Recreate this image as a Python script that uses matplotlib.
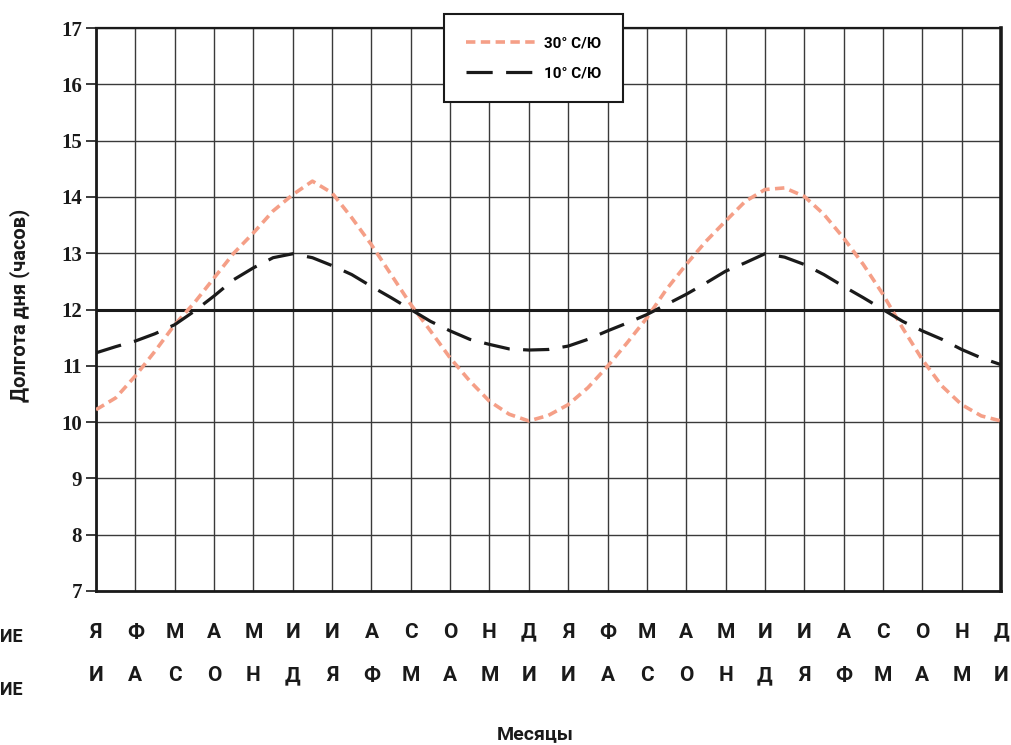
import matplotlib
matplotlib.use('Agg')
import matplotlib.pyplot as plt
import numpy as np

plt.rcParams['font.family'] = ['Roboto', 'DejaVu Sans']

# months, read every half month from the chart (0 = first Я, 23 = last Д)
months = np.arange(0, 23.01, 0.5)

lat30 = [10.22, 10.43, 10.82, 11.26, 11.73, 12.12, 12.56, 13.00, 13.36, 13.75,
         14.04, 14.28, 14.07, 13.63, 13.15, 12.62, 12.09, 11.62, 11.14, 10.73,
         10.37, 10.14, 10.02, 10.12, 10.31, 10.61, 10.99, 11.41, 11.85, 12.36,
         12.80, 13.21, 13.57, 13.92, 14.13, 14.16, 14.01, 13.69, 13.27, 12.80,
         12.27, 11.67, 11.11, 10.64, 10.31, 10.11, 10.02]

lat10 = [11.23, 11.34, 11.44, 11.57, 11.73, 11.97, 12.24, 12.53, 12.74, 12.92,
         12.99, 12.92, 12.78, 12.62, 12.41, 12.21, 12.00, 11.79, 11.62, 11.47,
         11.38, 11.30, 11.28, 11.29, 11.35, 11.47, 11.62, 11.76, 11.91, 12.09,
         12.27, 12.47, 12.68, 12.83, 12.99, 12.93, 12.80, 12.62, 12.41, 12.21,
         12.00, 11.79, 11.62, 11.47, 11.29, 11.14, 11.02]

row_north = ['Я', 'Ф', 'М', 'А', 'М', 'И', 'И', 'А', 'С', 'О', 'Н', 'Д',
             'Я', 'Ф', 'М', 'А', 'М', 'И', 'И', 'А', 'С', 'О', 'Н', 'Д']
row_south = ['И', 'А', 'С', 'О', 'Н', 'Д', 'Я', 'Ф', 'М', 'А', 'М', 'И',
             'И', 'А', 'С', 'О', 'Н', 'Д', 'Я', 'Ф', 'М', 'А', 'М', 'И']

hours = np.arange(7, 18)

fig = plt.figure(figsize=(10.11, 7.45), dpi=100)
ax = fig.add_axes([96 / 1011, 154 / 745, 905 / 1011, 563 / 745])

ax.set_xlim(0, 23)
ax.set_ylim(7, 17)

# grid
for m in range(24):
    ax.axvline(m, color='#3a3a3a', lw=1.0, zorder=1)
for h in hours:
    ax.axhline(h, color='#3a3a3a', lw=1.0, zorder=1)
ax.axhline(12, color='#1a1a1a', lw=2.2, zorder=2)

ax.plot(months, lat30, color='#f59f87', lw=2.6, dashes=(2.6, 1.5),
        label='30° С/Ю', zorder=3)
ax.plot(months, lat10, color='#1a1a1a', lw=2.3, dashes=(8.2, 4.2),
        label='10° С/Ю', zorder=4)

for side in ['left', 'right', 'bottom', 'top']:
    ax.spines[side].set_color('#1a1a1a')
ax.spines['left'].set_linewidth(2.0)
ax.spines['right'].set_linewidth(2.6)
ax.spines['bottom'].set_linewidth(2.0)
ax.spines['top'].set_linewidth(1.6)

ax.set_yticks(hours)
ax.set_yticklabels([str(h) for h in hours], family='Liberation Serif',
                   fontweight='bold', fontsize=15)
ax.tick_params(axis='y', length=7, width=1.2, pad=3, colors='#1a1a1a')
ax.set_xticks([])

tr = ax.get_xaxis_transform()
for i in range(24):
    ax.text(i, -0.073, row_north[i], transform=tr, ha='center', va='center',
            fontsize=15, fontweight='bold', color='#1a1a1a')
    ax.text(i, -0.150, row_south[i], transform=tr, ha='center', va='center',
            fontsize=15, fontweight='bold', color='#1a1a1a')

fig.text(0.0, 1 - 637 / 745, 'ИЕ', ha='left', va='center', fontsize=13,
         fontweight='bold', color='#1a1a1a')
fig.text(0.0, 1 - 690 / 745, 'ИЕ', ha='left', va='center', fontsize=13,
         fontweight='bold', color='#1a1a1a')

fig.text(20 / 1011, 1 - 305 / 745, 'Долгота дня (часов)', rotation=90,
         ha='center', va='center', fontsize=14.5, fontweight='bold', color='#1a1a1a')
fig.text(535 / 1011, 1 - 734 / 745, 'Месяцы', ha='center', va='center',
         fontsize=14, fontweight='bold', color='#1a1a1a')

leg = ax.legend(loc='upper left', bbox_to_anchor=(0.3845, 1.025),
                borderaxespad=0, frameon=True, fancybox=False, framealpha=1,
                edgecolor='#1a1a1a', handlelength=4.5, handletextpad=0.6,
                borderpad=1.45, labelspacing=1.05,
                prop={'weight': 'bold', 'size': 11})
leg.get_frame().set_linewidth(1.5)
leg.set_zorder(10)

fig.savefig('out.png', dpi=100)
